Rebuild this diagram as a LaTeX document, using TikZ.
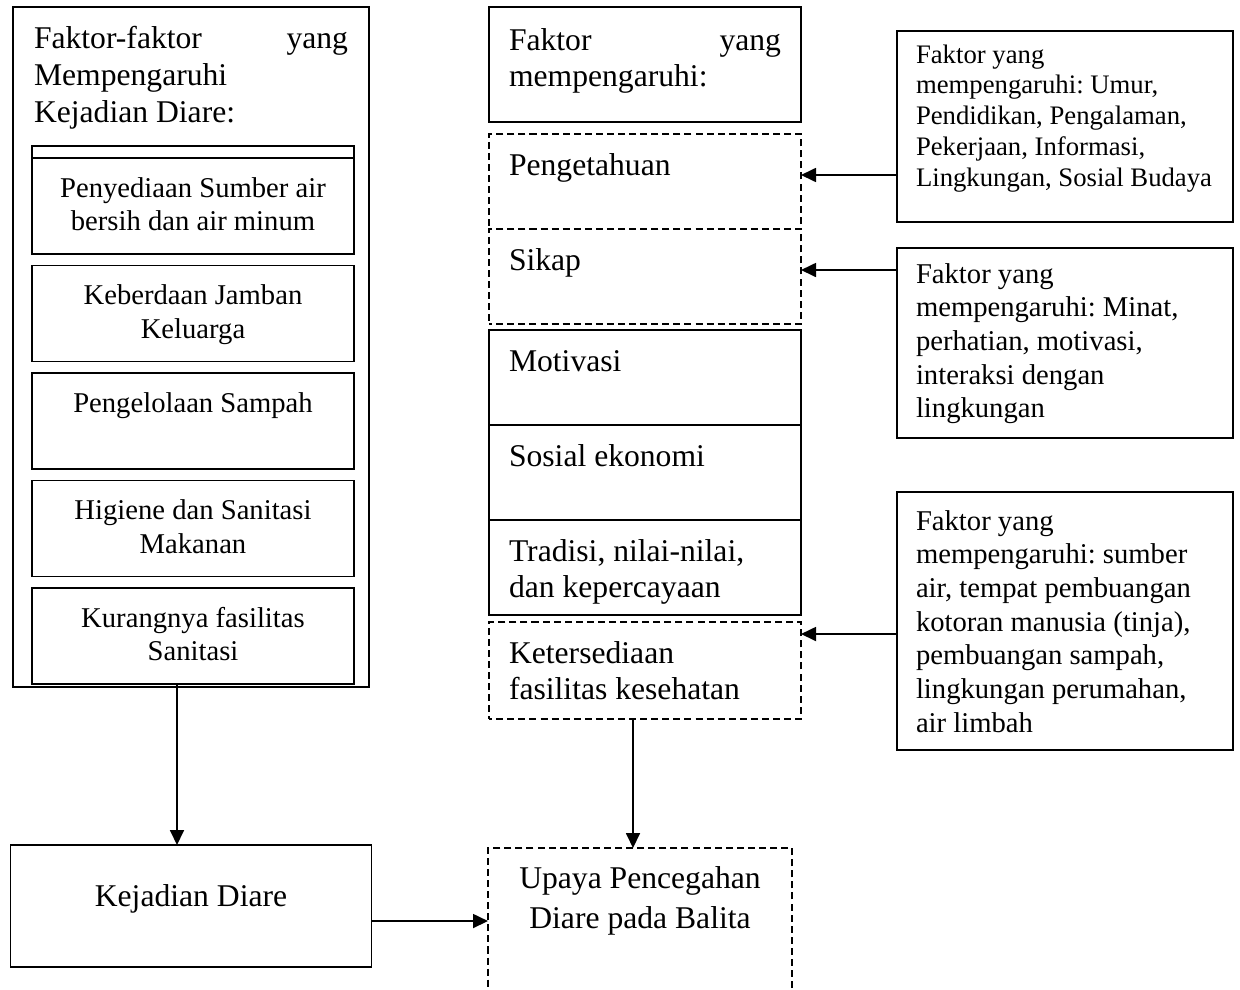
\documentclass[tikz,border=0pt]{standalone}
\usepackage{fontspec}
\setmainfont{Liberation Serif}
\usetikzlibrary{positioning,arrows.meta}
\frenchspacing
\newcommand{\nfont}{\fontsize{16.3}{19.2}\selectfont}
\newcommand{\sfont}{\fontsize{15.2}{17.5}\selectfont}
\newcommand{\tfont}{\fontsize{18}{21}\selectfont}
\newcommand{\bfont}{\fontsize{18}{22.8}\selectfont}
\tikzstyle{obox}=[rectangle, draw=black, line width=1pt, outer sep=0pt, inner ysep=0pt, font=\nfont]
\tikzstyle{lbox}=[obox, text width=58mm, inner xsep=3.2mm, align=flush center, text height=7.8mm, text depth=11.4mm]
\tikzstyle{mbox}=[obox, font=\tfont, text width=54.4mm, inner xsep=4mm, align=flush left, text height=8.2mm, text depth=10.8mm]
\tikzstyle{dbox}=[mbox, dash pattern=on 4pt off 2.3pt, dash phase=2.175pt]
\tikzstyle{rbox}=[obox, text width=59.6mm, inner xsep=3.8mm, align=flush left]
\tikzstyle{pline}=[-{Triangle[length=3mm,width=2.8mm]}, line width=1pt]
\begin{document}
\begin{tikzpicture}[x=0.2mm, y=-0.2mm, node distance=0mm]
    \useasboundingbox (0,0) rectangle (1240,990);

% left column
    \node (fak) [obox, anchor=north west, font=\tfont, text width=62.8mm, inner xsep=4.2mm, align=flush left,
      text height=8.4mm, text depth=127.6mm] at (13,7)
	{Faktor-faktor\hfill yang\\ Mempengaruhi\\ Kejadian Diare:};

    \node (air) [lbox, anchor=north, text height=10.2mm] at (193,146) {Penyediaan Sumber air\\ bersih dan air minum};
    \node (jam) [lbox, below=2.3mm of air] {Keberdaan Jamban\\ Keluarga};
    \node (sam) [lbox, below=2.3mm of jam] {Pengelolaan Sampah};
    \node (hig) [lbox, below=2.3mm of sam] {Higiene dan Sanitasi\\ Makanan};
    \node (san) [lbox, below=2.3mm of hig] {Kurangnya fasilitas\\ Sanitasi};

    \node (kej) [obox, below=31.6mm of fak, minimum width=72.2mm, font=\bfont,
      text height=12.2mm, text depth=12.2mm] {Kejadian Diare};

% middle column
    \node (mfak) [mbox, anchor=north west, text height=8.6mm, text depth=14.4mm] at (489,7)
	{Faktor\hfill yang\\ mempengaruhi:};
    \node (pen) [dbox, below=2.4mm of mfak] {Pengetahuan};
    \node (sik) [dbox, below=0mm of pen] {Sikap};
    \node (mot) [mbox, below=1.2mm of sik] {Motivasi};
    \node (sos) [mbox, below=0mm of mot] {Sosial ekonomi};
    \node (tra) [mbox, below=0mm of sos] {Tradisi, nilai-nilai,\\ dan kepercayaan};
    \node (ket) [dbox, below=1.4mm of tra, text depth=11.2mm] {Ketersediaan\\ fasilitas kesehatan};

    \node (upa) [obox, dash pattern=on 4pt off 2.3pt, below=25.8mm of ket, xshift=-1mm,
      text width=54mm, inner xsep=3.4mm, font=\bfont, align=flush center, text height=8mm, text depth=21.2mm]
	{Upaya Pencegahan\\ Diare pada Balita};

% right column
    \node (rk1) [rbox, anchor=north west, font=\sfont, text height=6.4mm, text depth=31.8mm] at (897,31)
	{Faktor yang\\ mempengaruhi: Umur,\\ Pendidikan, Pengalaman,\\ Pekerjaan, Informasi,\\ Lingkungan, Sosial Budaya};
    \node (rk2) [rbox, below=5.2mm of rk1, text height=7mm, text depth=31mm]
	{Faktor yang\\ mempengaruhi: Minat,\\ perhatian, motivasi,\\ interaksi dengan\\ lingkungan};
    \node (rk3) [rbox, below=10.8mm of rk2, text height=7.6mm, text depth=44mm]
	{Faktor yang\\ mempengaruhi: sumber\\ air, tempat pembuangan\\ kotoran manusia (tinja),\\ pembuangan sampah,\\ lingkungan perumahan,\\ air limbah};

% lines
   \draw[line width=1pt] ([yshift=-2.4mm]air.north west) -- ([yshift=-2.4mm]air.north east);
   \draw[pline] ([xshift=-3.2mm]san.south) -- ([xshift=-3.2mm]san.south |- kej.north);
   \draw[pline] (kej.east |- upa.west) -- (upa.west);
   \draw[pline] ([xshift=-2.4mm]ket.south) -- ([xshift=-2.4mm]ket.south |- upa.north);

   \draw[pline] ([yshift=-8.2mm]pen.north east -| rk1.west) -- ([yshift=-8.2mm]pen.north east);
   \draw[pline] ([yshift=-8.2mm]sik.north east -| rk2.west) -- ([yshift=-8.2mm]sik.north east);
   \draw[pline] ([yshift=-2.4mm]ket.north east -| rk3.west) -- ([yshift=-2.4mm]ket.north east);
\end{tikzpicture}
\end{document}
